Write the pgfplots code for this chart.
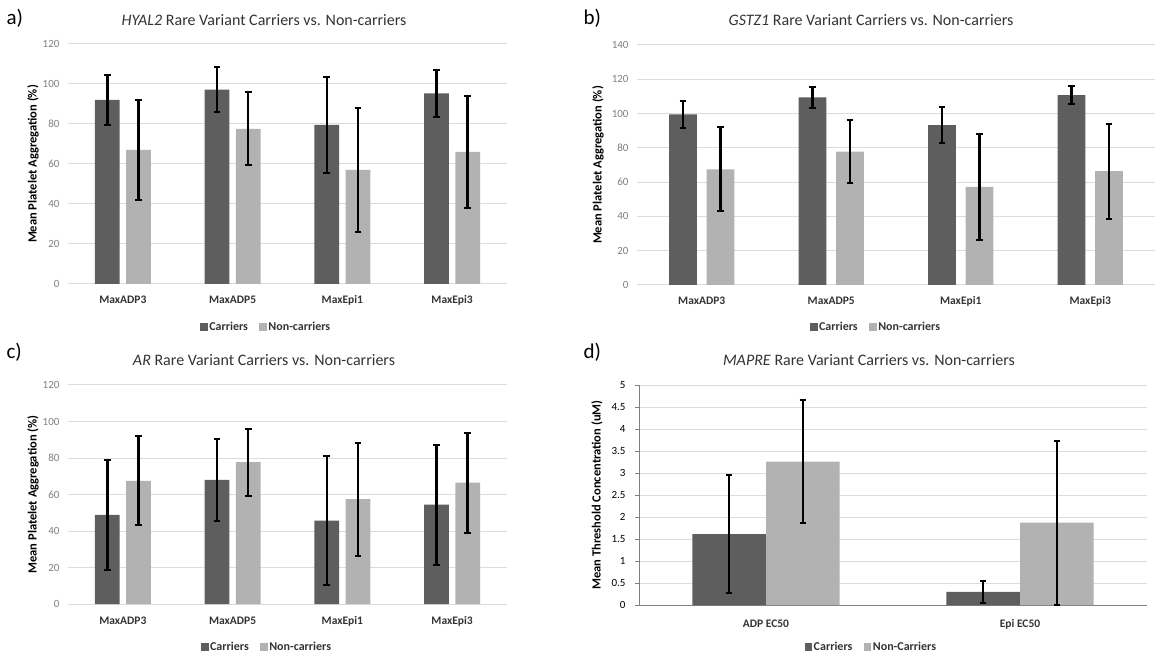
\documentclass[border=0pt]{standalone}
\usepackage{fontspec}
\setmainfont{Carlito}
\usepackage{pgfplots}
\usepackage{pgfplotstable}
\pgfplotsset{compat=1.18}
\definecolor{carr}{HTML}{5E5E5E}
\definecolor{nonc}{HTML}{B2B2B2}
\definecolor{gridc}{HTML}{DCDCDC}
\definecolor{tickc}{HTML}{7F7F7F}
\definecolor{titc}{HTML}{333333}

% panel a: x, mean, error
\pgfplotstableread{
x y e
0 92.0 12.4
1 97.2 11.2
2 79.5 24.2
3 95.3 11.8
}\aCar
\pgfplotstableread{
x y e
0 67.0 24.8
1 77.6 18.2
2 57.1 31.1
3 66.0 28.0
}\aNon
\pgfplotstableread{
x y e
0 99.5 8.0
1 109.5 6.0
2 93.3 10.3
3 110.8 5.2
}\bCar
\pgfplotstableread{
x y e
0 67.5 24.6
1 77.8 18.2
2 57.3 31.0
3 66.4 27.7
}\bNon
\pgfplotstableread{
x y e
0 48.8 30.2
1 68.0 22.6
2 45.7 35.5
3 54.4 32.8
}\cCar
\pgfplotstableread{
x y e
0 67.5 24.4
1 77.7 18.4
2 57.4 31.0
3 66.5 27.4
}\cNon
\pgfplotstableread{
x y e
0 1.61 1.34
1 0.30 0.25
}\dCar
\pgfplotstableread{
x y e
0 3.26 1.39
1 1.87 1.86
}\dNon

\pgfplotsset{
  base/.style={
    scale only axis,
    anchor=south west,
    ybar,
    ymin=0,
    ymajorgrids,
    grid style={gridc, line width=1pt},
    /pgf/number format/assume math mode=true,
    tick label style={font=\fontsize{11}{13}\selectfont},
    yticklabel style={tickc, anchor=east, xshift=-5pt},
    xticklabel style={font=\fontsize{11.5}{13}\selectfont\bfseries, text=titc, anchor=base},
    ylabel style={font=\fontsize{12.5}{14}\selectfont\bfseries, at={(axis description cs:0,0.5)}, anchor=center},
    legend style={draw=none, fill=none, font=\fontsize{12}{14}\selectfont\bfseries, text=titc, anchor=center,
      nodes={inner sep=1.5pt},
      /tikz/every even column/.append style={column sep=10pt}},
    legend columns=2,
    legend image code/.code={\fill[##1] (0pt,-3.6pt) rectangle (7.5pt,3.9pt);},
    error bars/y dir=both,
    error bars/y explicit,
    error bars/error bar style={black, line width=2.5pt},
    error bars/error mark options={black, line width=2pt, mark size=3.3pt, rotate=90},
  },
  four/.style={
    base,
    axis line style={draw=none},
    major tick length=0pt,
    xmin=-0.5, xmax=3.5,
    xtick={0,1,2,3},
    xticklabels={MaxADP3,MaxADP5,MaxEpi1,MaxEpi3},
    xticklabel style={yshift=-20pt},
    bar width=0.225,
    ylabel={Mean Platelet Aggregation (\%)},
  },
}

\begin{document}
\begin{tikzpicture}
\useasboundingbox (0pt,0pt) rectangle (1155pt,656pt);

% ---------- panel a ----------
\node[font=\fontsize{21}{24}\selectfont, anchor=west] at (3pt,638pt) {a)};
\node[font=\fontsize{16}{18}\selectfont, text=titc] at (264pt,636pt) {\textit{HYAL2} Rare Variant Carriers vs. Non-carriers};
\begin{axis}[four, at={(68pt,372pt)}, width=439pt, height=240pt,
  ymax=120, ytick={0,20,...,120},
  ylabel style={yshift=35pt},
  legend style={at={(axis description cs:0.451,-0.179)}}]
\addplot[fill=carr, draw=none, bar shift=-0.142] table[x=x, y=y, y error=e] {\aCar};
\addplot[fill=nonc, draw=none, bar shift=0.142] table[x=x, y=y, y error=e] {\aNon};
\legend{Carriers, Non-carriers}
\end{axis}

% ---------- panel b ----------
\node[font=\fontsize{21}{24}\selectfont, anchor=west] at (580pt,638pt) {b)};
\node[font=\fontsize{16}{18}\selectfont, text=titc] at (871pt,636pt) {\textit{GSTZ1} Rare Variant Carriers vs. Non-carriers};
\begin{axis}[four, at={(637pt,371pt)}, width=518pt, height=240pt,
  ymax=140, ytick={0,20,...,140},
  ylabel style={yshift=39pt},
  bar width=0.215,
  legend style={at={(axis description cs:0.461,-0.175)}}]
\addplot[fill=carr, draw=none, bar shift=-0.145] table[x=x, y=y, y error=e] {\bCar};
\addplot[fill=nonc, draw=none, bar shift=0.145] table[x=x, y=y, y error=e] {\bNon};
\legend{Carriers, Non-carriers}
\end{axis}

% ---------- panel c ----------
\node[font=\fontsize{21}{24}\selectfont, anchor=west] at (3pt,304pt) {c)};
\node[font=\fontsize{16}{18}\selectfont, text=titc] at (264pt,296pt) {\textit{AR} Rare Variant Carriers vs. Non-carriers};
\begin{axis}[four, at={(68pt,52pt)}, width=439pt, height=219pt,
  ymax=120, ytick={0,20,...,120},
  ylabel style={yshift=35pt},
  legend style={at={(axis description cs:0.453,-0.196)}}]
\addplot[fill=carr, draw=none, bar shift=-0.142] table[x=x, y=y, y error=e] {\cCar};
\addplot[fill=nonc, draw=none, bar shift=0.142] table[x=x, y=y, y error=e] {\cNon};
\legend{Carriers, Non-carriers}
\end{axis}

% ---------- panel d ----------
\node[font=\fontsize{21}{24}\selectfont, anchor=west] at (580pt,304pt) {d)};
\node[font=\fontsize{16}{18}\selectfont, text=titc] at (869pt,296pt) {\textit{MAPRE} Rare Variant Carriers vs. Non-carriers};
\begin{axis}[base, at={(639pt,51pt)}, width=508pt, height=220pt,
  axis x line*=bottom, axis y line*=left,
  axis line style={tickc, line width=0.8pt},
  tick style={tickc, line width=0.8pt},
  ymax=5, ytick={0,0.5,...,5},
  yticklabel style={text=black, xshift=-1pt},
  ytick align=outside, major tick length=4pt,
  xmin=-0.5, xmax=1.5,
  xtick={0,1}, xticklabels={ADP EC50, Epi EC50},
  x tick style={draw=none},
  extra x ticks={-0.5,0.5,1.5}, extra x tick labels={},
  extra x tick style={grid=none, tick align=outside, major tick length=4pt, tick style={tickc, line width=0.8pt}},
  xticklabel style={yshift=-18pt},
  bar width=0.29,
  ylabel={Mean Threshold Concentration (uM)},
  ylabel style={yshift=42pt},
  legend style={at={(axis description cs:0.457,-0.191)}}]
\addplot[fill=carr, draw=none, bar shift=-0.145] table[x=x, y=y, y error=e] {\dCar};
\addplot[fill=nonc, draw=none, bar shift=0.145] table[x=x, y=y, y error=e] {\dNon};
\legend{Carriers, Non-Carriers}
\end{axis}
\end{tikzpicture}
\end{document}
